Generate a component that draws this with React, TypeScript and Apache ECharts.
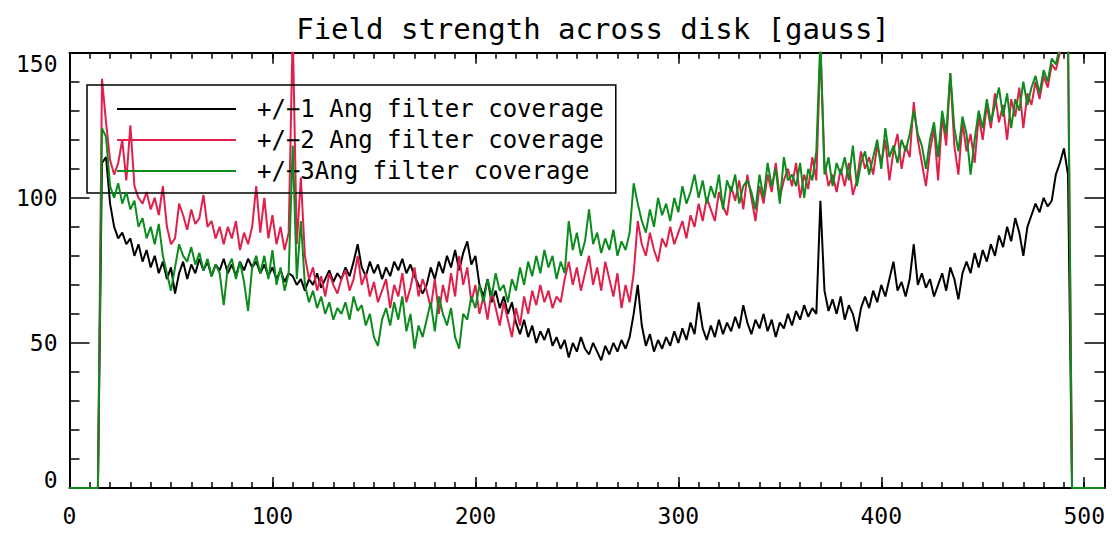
import React, { useEffect, useRef } from "react";
import * as echarts from "echarts";

const TITLE = "Field strength across disk [gauss]";
const SERIES_NAMES = [
  "+/\u22121 Ang filter coverage",
  "+/\u22122 Ang filter coverage",
  "+/\u22123Ang filter coverage",
];
const COLORS = ["#000000", "#e0204b", "#0b8c1c"];

// Off-disk samples (value 0)
const OFF_DISK_LEFT_X = [0, 14];
const OFF_DISK_RIGHT_X = [510];

// On-disk samples start at x = 16, every 2 pixels, up to 494 (where it drops to 0)
const X_START = 16;
const X_STEP = 2;

const blackVals = [
  112, 114, 98, 90, 86, 88, 84, 86, 80, 84, // 16
  78, 82, 76, 80, 74, 78, 72, 76, 67, 74, // 36
  78, 72, 77, 74, 79, 75, 78, 73, 77, 75, // 56
  79, 74, 77, 73, 78, 75, 79, 76, 78, 74, // 76
  77, 73, 76, 72, 75, 71, 74, 73, 70, 72, // 96
  68, 72, 70, 74, 69, 72, 75, 71, 74, 72, // 116
  76, 73, 78, 84, 76, 73, 78, 74, 77, 72, // 136
  76, 73, 78, 75, 79, 74, 77, 73, 70, 67, // 156
  70, 76, 72, 78, 74, 80, 76, 82, 75, 81, // 176
  85, 77, 80, 70, 66, 72, 64, 68, 62, 66, // 196
  60, 64, 57, 53, 58, 52, 56, 50, 54, 51, // 216
  55, 49, 52, 48, 51, 45, 50, 47, 52, 48, // 236
  46, 50, 47, 44, 49, 46, 50, 47, 51, 48, // 256
  52, 60, 70, 56, 49, 53, 47, 51, 48, 52, // 276
  49, 54, 50, 55, 51, 57, 53, 64, 55, 51, // 296
  56, 52, 58, 53, 57, 54, 59, 55, 63, 57, // 316
  53, 58, 55, 60, 54, 58, 52, 57, 55, 60, // 336
  56, 61, 58, 63, 59, 62, 60, 99, 68, 61, // 356
  65, 60, 66, 58, 63, 60, 54, 62, 66, 62, // 376
  68, 64, 70, 66, 72, 78, 68, 71, 66, 72, // 396
  84, 70, 74, 69, 72, 66, 70, 74, 68, 76, // 416
  72, 65, 74, 78, 74, 81, 76, 82, 78, 84, // 436
  80, 87, 83, 90, 85, 93, 88, 80, 90, 94, // 456
  98, 95, 100, 97, 99, 108, 112, 117, 108, 0, // 476
];

const redVals = [
  141, 126, 113, 108, 112, 120, 106, 125, 104, 100, // 16
  98, 102, 96, 100, 94, 104, 90, 84, 86, 98, // 36
  94, 89, 96, 91, 93, 101, 90, 92, 86, 90, // 56
  84, 90, 86, 92, 82, 88, 84, 90, 104, 88, // 76
  100, 86, 94, 84, 90, 82, 88, 158, 84, 107, // 96
  80, 72, 76, 68, 73, 66, 74, 70, 67, 72, // 116
  75, 68, 72, 80, 70, 74, 66, 71, 64, 68, // 136
  72, 62, 70, 66, 74, 64, 69, 76, 66, 72, // 156
  68, 62, 72, 60, 70, 64, 74, 66, 80, 70, // 176
  76, 64, 70, 60, 66, 58, 68, 62, 56, 64, // 196
  58, 52, 62, 56, 66, 60, 68, 63, 70, 64, // 216
  68, 62, 66, 64, 72, 78, 70, 76, 68, 74, // 236
  80, 70, 76, 68, 78, 72, 66, 74, 62, 70, // 256
  64, 74, 92, 84, 80, 88, 82, 78, 86, 83, // 276
  90, 84, 88, 92, 86, 94, 90, 98, 92, 100, // 296
  96, 92, 102, 97, 94, 104, 99, 106, 96, 108, // 316
  100, 92, 104, 98, 108, 102, 112, 100, 106, 110, // 336
  104, 112, 100, 108, 103, 114, 106, 152, 112, 104, // 356
  108, 102, 110, 104, 112, 101, 106, 116, 110, 114, // 376
  108, 118, 112, 120, 106, 116, 122, 110, 118, 114, // 396
  133, 120, 112, 104, 116, 124, 106, 128, 118, 143, // 416
  118, 108, 126, 116, 122, 112, 128, 120, 132, 124, // 436
  136, 126, 132, 120, 134, 128, 138, 124, 136, 132, // 456
  140, 134, 142, 138, 146, 144, 150, 154, 156, 0, // 476
];

const greenVals = [
  124, 121, 104, 100, 105, 98, 102, 96, 99, 90, // 16
  93, 86, 90, 84, 91, 80, 74, 68, 76, 84, // 36
  80, 78, 83, 77, 81, 75, 79, 73, 77, 74, // 56
  63, 76, 79, 72, 78, 71, 61, 76, 80, 74, // 76
  80, 72, 82, 70, 76, 68, 74, 118, 72, 92, // 96
  70, 64, 68, 62, 66, 60, 64, 58, 62, 60, // 116
  64, 58, 66, 61, 63, 56, 60, 52, 49, 58, // 136
  62, 56, 64, 58, 66, 54, 60, 48, 56, 52, // 156
  58, 64, 54, 66, 60, 56, 62, 52, 48, 60, // 176
  58, 66, 62, 70, 64, 72, 66, 74, 68, 70, // 196
  64, 72, 68, 76, 70, 78, 73, 80, 74, 82, // 216
  76, 80, 72, 78, 74, 92, 82, 88, 80, 85, // 236
  96, 84, 88, 81, 86, 82, 89, 80, 85, 82, // 256
  88, 105, 98, 92, 88, 96, 90, 100, 94, 98, // 276
  92, 100, 95, 104, 98, 102, 108, 100, 106, 98, // 296
  104, 100, 108, 96, 106, 102, 108, 98, 104, 106, // 316
  102, 96, 108, 100, 112, 104, 110, 98, 114, 106, // 336
  108, 104, 112, 100, 110, 106, 116, 155, 108, 114, // 356
  104, 112, 108, 114, 106, 118, 104, 112, 116, 108, // 376
  114, 120, 110, 124, 114, 118, 112, 120, 116, 122, // 396
  130, 122, 118, 110, 120, 126, 114, 130, 122, 143, // 416
  124, 116, 128, 122, 108, 120, 130, 124, 134, 126, // 436
  132, 138, 128, 136, 124, 134, 130, 140, 132, 138, // 456
  142, 136, 144, 140, 148, 146, 152, 154, 156, 0, // 476
];

const X_MIN = 0;
const X_MAX = 510;
const Y_MIN = 0;
const Y_MAX = 150;

const FONT = "DejaVu Sans Mono";

function buildSeriesData(vals: number[]): number[][] {
  const out: number[][] = [];
  OFF_DISK_LEFT_X.forEach((x) => out.push([x, 0]));
  vals.forEach((v, i) => out.push([X_START + i * X_STEP, v]));
  OFF_DISK_RIGHT_X.forEach((x) => out.push([x, 0]));
  return out;
}

export default function App() {
  const ref = useRef<HTMLDivElement>(null);

  useEffect(() => {
    if (!ref.current) return;
    const chart = echarts.init(ref.current, undefined, { renderer: "svg" });

    const axisLineStyle = { color: "#000", width: 2 };
    const tickStyle = { color: "#000", width: 1.5 };

    const xMinorAxis = (pos: "bottom" | "top", labels: boolean) => ({
      type: "value",
      position: pos,
      min: X_MIN,
      max: X_MAX,
      interval: 10,
      axisLine: { show: true, onZero: false, lineStyle: axisLineStyle },
      axisTick: { show: true, inside: true, length: 6, lineStyle: tickStyle },
      axisLabel: {
        show: labels,
        margin: 16,
        color: "#000",
        fontFamily: FONT,
        fontSize: 23,
        formatter: (v: number) => (v % 100 === 0 ? String(v) : ""),
      },
      splitLine: { show: false },
    });
    const xMajorAxis = (pos: "bottom" | "top") => ({
      type: "value",
      position: pos,
      min: X_MIN,
      max: X_MAX,
      interval: 100,
      axisLine: { show: false, onZero: false },
      axisTick: { show: true, inside: true, length: 11, lineStyle: tickStyle },
      axisLabel: { show: false },
      splitLine: { show: false },
    });
    const yAxisDef = (pos: "left" | "right", labels: boolean) => ({
      type: "value",
      position: pos,
      min: Y_MIN,
      max: Y_MAX,
      interval: 50,
      axisLine: { show: true, onZero: false, lineStyle: axisLineStyle },
      axisTick: { show: true, inside: true, length: 20, lineStyle: tickStyle },
      minorTick: { show: true, splitNumber: 5, length: 10, lineStyle: tickStyle },
      axisLabel: {
        show: labels,
        margin: 12,
        color: "#000",
        fontFamily: FONT,
        fontSize: 23,
        formatter: (v: number) =>
          v === Y_MAX ? "{top|" + v + "}" : v === Y_MIN ? "{bot|" + v + "}" : String(v),
        rich: {
          top: { padding: [22, 0, 0, 0], fontSize: 23, fontFamily: FONT, color: "#000" },
          bot: { padding: [0, 0, 16, 0], fontSize: 23, fontFamily: FONT, color: "#000" },
        },
      },
      splitLine: { show: false },
    });

    const datasets = [blackVals, redVals, greenVals];

    chart.setOption({
      animation: false,
      backgroundColor: "#fff",
      title: {
        text: TITLE,
        left: 580,
        textAlign: "center",
        top: 1,
        textStyle: { fontFamily: FONT, fontSize: 29, fontWeight: "normal", color: "#000" },
      },
      legend: {
        show: true,
        orient: "vertical",
        left: 79,
        top: 77,
        padding: [12, 12, 10, 30],
        icon: "rect",
        itemWidth: 119,
        itemHeight: 2,
        itemGap: 7,
        borderColor: "#000",
        borderWidth: 1.5,
        backgroundColor: "transparent",
        selectedMode: false,
        textStyle: {
          fontFamily: FONT,
          fontSize: 24,
          color: "#000",
          padding: [0, 0, 0, 16],
        },
        data: SERIES_NAMES,
      },
      grid: { left: 61.5, right: 1, top: 44.7, bottom: 38.7, containLabel: false },
      xAxis: [xMinorAxis("bottom", true), xMinorAxis("top", false), xMajorAxis("bottom"), xMajorAxis("top")],
      yAxis: [yAxisDef("left", true), yAxisDef("right", false)],
      series: datasets.map((vals, i) => ({
        name: SERIES_NAMES[i],
        type: "line",
        xAxisIndex: 0,
        yAxisIndex: 0,
        data: buildSeriesData(vals),
        symbol: "none",
        showSymbol: false,
        color: COLORS[i],
        lineStyle: { color: COLORS[i], width: 2 },
        clip: true,
        z: 2 + i,
      })),
    });

    return () => chart.dispose();
  }, []);

  return <div ref={ref} style={{ width: 1100, height: 519 }} />;
}
